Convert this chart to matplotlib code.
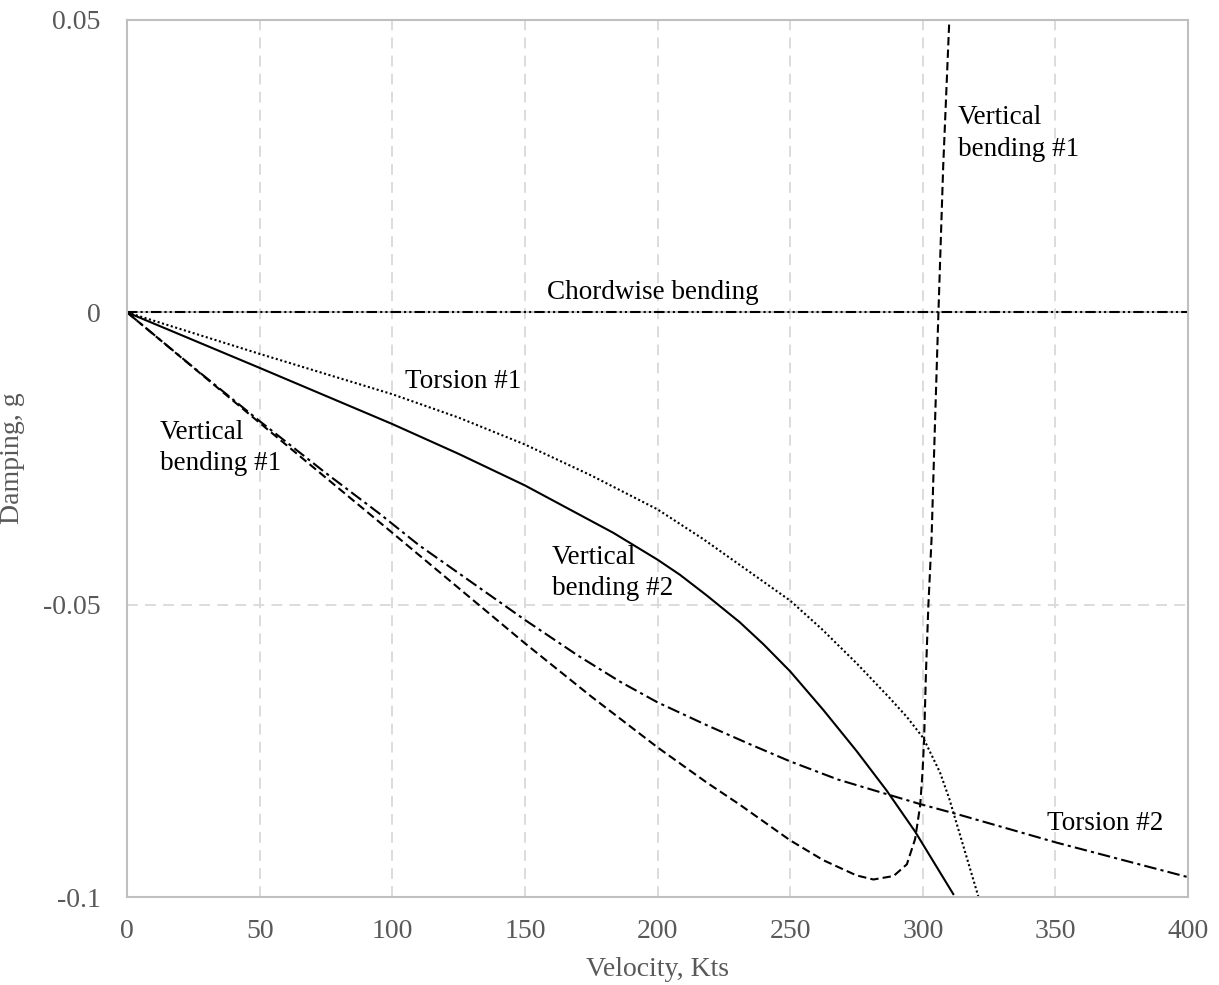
import numpy as np
import matplotlib
matplotlib.use("Agg")
import matplotlib.pyplot as plt

plt.rcParams['font.family'] = ['Liberation Serif', 'DejaVu Serif']

# flutter analysis: damping vs velocity for each mode
vb1_v = [0, 50, 100, 150, 175, 193.4, 200, 218.5, 231, 250, 262.5, 275, 281.4, 289, 294, 297.1,
         299, 299.9, 300.5, 301.2, 302.1, 303.3, 304.6, 305.9, 307.7, 310]
vb1_g = [0, -0.0189, -0.0377, -0.0566, -0.0657, -0.0721, -0.0744, -0.0804, -0.0842, -0.0903,
         -0.0937, -0.0963, -0.0970, -0.0964, -0.0944, -0.0901, -0.0844, -0.0787, -0.0730,
         -0.0616, -0.0502, -0.0388, -0.0190, 0.0, 0.025, 0.05]

vb2_v = [0, 50, 100, 125, 150, 183.3, 200, 208.5, 218.5, 231, 240, 250, 262.5, 275, 286.4, 297.1, 311.5]
vb2_g = [0, -0.0095, -0.0191, -0.0242, -0.0296, -0.0377, -0.0423, -0.0449, -0.0484, -0.0530,
         -0.0568, -0.0614, -0.0680, -0.0750, -0.0818, -0.0888, -0.0995]

tor1_v = [0, 50, 100, 125, 150, 175, 200, 217.3, 250, 262, 275, 287.6, 294, 300.2, 306.5, 310,
          313.4, 321]
tor1_g = [0, -0.0071, -0.0140, -0.0180, -0.0226, -0.0279, -0.0337, -0.0388, -0.0493, -0.0542,
          -0.0600, -0.0660, -0.0692, -0.0728, -0.0787, -0.0832, -0.0884, -0.1000]

tor2_v = [0, 25, 50, 75, 95.4, 110, 141.9, 150, 170, 186, 200, 218.5, 235, 250, 268, 286.4,
          299, 312.8, 350.5, 400]
tor2_g = [0, -0.0094, -0.0186, -0.0275, -0.0345, -0.0398, -0.0500, -0.0526, -0.0587, -0.0632,
          -0.0667, -0.0706, -0.0739, -0.0768, -0.0799, -0.0824, -0.0841, -0.0858, -0.0907, -0.0966]

chord_v = [0, 400]
chord_g = [0, 0]

x_ticks = [0, 50, 100, 150, 200, 250, 300, 350, 400]
y_ticks = [-0.1, -0.05, 0, 0.05]
y_tick_labels = ['-0.1', '-0.05', '0', '0.05']

fig = plt.figure(figsize=(12.19, 9.85), dpi=100)
ax = fig.add_axes([0.1042, 0.0893, 0.8704, 0.8904])

grid_c = '#d9d9d9'
for x in x_ticks[1:-1]:
    ax.axvline(x, color=grid_c, lw=1.3, ls=(0, (6, 4)), zorder=0)
ax.axhline(-0.05, color=grid_c, lw=1.3, ls=(0, (6, 4)), zorder=0)
ax.axhline(0, color='#bfbfbf', lw=1.3, zorder=0)

lw = 1.5
ax.plot(chord_v, chord_g, color='black', lw=lw, ls=(0, (5, 1.5, 1, 1.5, 1, 1.5)))
ax.plot(tor1_v, tor1_g, color='black', lw=lw, ls=(0, (1, 1.2)))
ax.plot(vb2_v, vb2_g, color='black', lw=lw, ls='-')
ax.plot(tor2_v, tor2_g, color='black', lw=lw, ls=(0, (6, 2, 1.5, 2)))
ax.plot(vb1_v, vb1_g, color='black', lw=lw, ls=(0, (4, 2)))

ax.set_xlim(0, 400)
ax.set_ylim(-0.1, 0.05)
ax.set_xticks(x_ticks)
ax.set_yticks(y_ticks)
ax.set_yticklabels(y_tick_labels)
ax.tick_params(length=0, labelsize=20, labelcolor='#595959')
ax.tick_params(axis='x', pad=16)
ax.tick_params(axis='y', pad=19)
for s in ax.spines.values():
    s.set_color('#bfbfbf')
    s.set_linewidth(1.5)

ax.set_xlabel('Velocity, Kts', fontsize=20, color='#595959', labelpad=9)
ax.set_ylabel('Damping, g', fontsize=20, color='#595959')
ax.yaxis.set_label_coords(-0.096, 0.5)

fs = 19.5
ax.text(198.3, 0.0034, 'Chordwise bending', fontsize=fs, ha='center', va='center')
ax.text(104.8, -0.0118, 'Torsion #1', fontsize=fs, ha='left', va='center')
ax.text(12.4, -0.0232, 'Vertical\nbending #1', fontsize=fs, ha='left', va='center', linespacing=1.35)
ax.text(160.2, -0.0446, 'Vertical\nbending #2', fontsize=fs, ha='left', va='center', linespacing=1.35)
ax.text(313.3, 0.0306, 'Vertical\nbending #1', fontsize=fs, ha='left', va='center', linespacing=1.35)
ax.text(346.8, -0.0874, 'Torsion #2', fontsize=fs, ha='left', va='center')

fig.savefig('out.png', dpi=100)
